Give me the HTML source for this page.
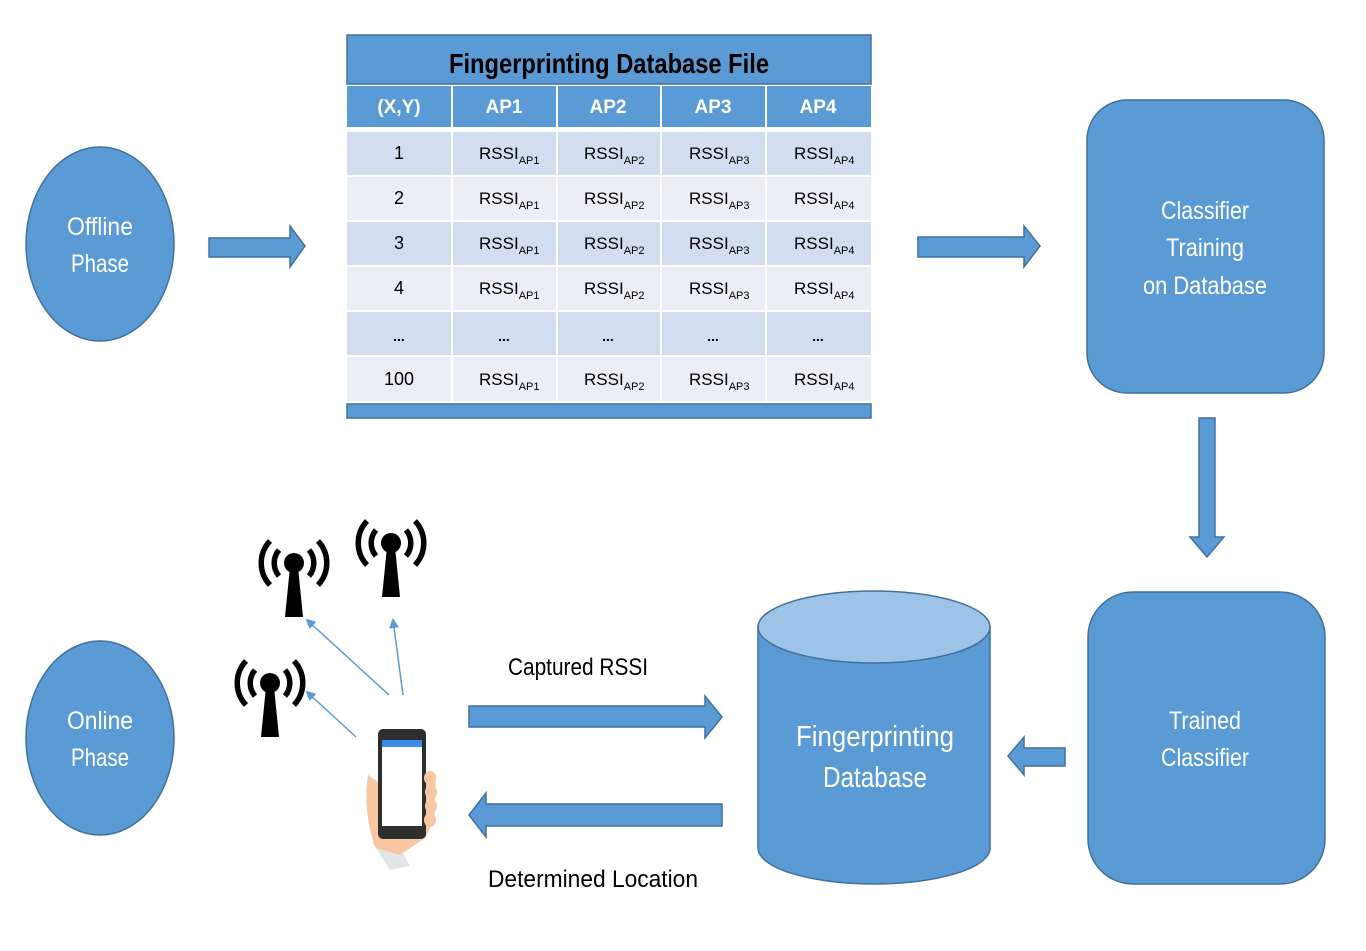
<!DOCTYPE html>
<html><head><meta charset="utf-8"><style>
html,body{margin:0;padding:0;background:#fff;width:1366px;height:951px;overflow:hidden}
svg{display:block}
text{font-family:"Liberation Sans Narrow","Liberation Sans",sans-serif}
</style></head><body>
<svg width="1366" height="951" viewBox="0 0 1366 951" xmlns="http://www.w3.org/2000/svg">
<defs>
<marker id="ah" markerWidth="10" markerHeight="10" refX="8" refY="5" orient="auto" markerUnits="userSpaceOnUse"><path d="M0,0 L10,5 L0,10 Z" fill="#5b9bd5"/></marker>
<g id="ant">
<circle cx="0" cy="0" r="10" fill="#000"/>
<path d="M-4,4 L4,4 L9,54 L-9,54 Z" fill="#000"/>
<path d="M-15,-13 A20,20 0 0 0 -15,13" fill="none" stroke="#000" stroke-width="5.5"/>
<path d="M15,-13 A20,20 0 0 1 15,13" fill="none" stroke="#000" stroke-width="5.5"/>
<path d="M-24,-22 A32,32 0 0 0 -24,22" fill="none" stroke="#000" stroke-width="5.5"/>
<path d="M24,-22 A32,32 0 0 1 24,22" fill="none" stroke="#000" stroke-width="5.5"/>
</g>
</defs>
<g fill="#5b9bd5" stroke="#41719c" stroke-width="1.5">
<ellipse cx="100" cy="244" rx="74" ry="97"/>
<ellipse cx="100" cy="738" rx="74" ry="97"/>
<path d="M209,238 L290,238 L290,226 L305,246 L290,267 L290,257 L209,257 Z"/>
<path d="M918,237 L1024,237 L1024,226 L1040,246 L1024,267 L1024,257 L918,257 Z"/>
<path d="M1199,418 L1215,418 L1215,537 L1224,537 L1207,557 L1190,537 L1199,537 Z"/>
<rect x="1087" y="100" width="237" height="293" rx="40"/>
<rect x="1088" y="592" width="237" height="292" rx="45"/>
<path d="M1065,748 L1024,748 L1024,737 L1008,756 L1024,775 L1024,766 L1065,766 Z"/>
<path d="M469,706 L705,706 L705,696 L722,717 L705,738 L705,727 L469,727 Z"/>
<path d="M722,804 L486,804 L486,793 L469,815 L486,837 L486,826 L722,826 Z"/>
<path d="M758,627 L758,848 A116,36 0 0 0 990,848 L990,627 Z"/>
<ellipse cx="874" cy="627" rx="116" ry="36" fill="#9dc3e6"/>
</g>
<g fill="#fff" font-size="25" text-anchor="middle">
<text x="100" y="235" textLength="66" lengthAdjust="spacingAndGlyphs">Offline</text>
<text x="100" y="272" textLength="58" lengthAdjust="spacingAndGlyphs">Phase</text>
<text x="100" y="729" textLength="66" lengthAdjust="spacingAndGlyphs">Online</text>
<text x="100" y="766" textLength="58" lengthAdjust="spacingAndGlyphs">Phase</text>
<text x="1205" y="219" textLength="88" lengthAdjust="spacingAndGlyphs">Classifier</text>
<text x="1205" y="256" textLength="78" lengthAdjust="spacingAndGlyphs">Training</text>
<text x="1205" y="294" textLength="124" lengthAdjust="spacingAndGlyphs">on Database</text>
<text x="1205" y="729" textLength="72" lengthAdjust="spacingAndGlyphs">Trained</text>
<text x="1205" y="766" textLength="88" lengthAdjust="spacingAndGlyphs">Classifier</text>
<text x="875" y="746" font-size="29" textLength="158" lengthAdjust="spacingAndGlyphs">Fingerprinting</text>
<text x="875" y="787" font-size="29" textLength="104" lengthAdjust="spacingAndGlyphs">Database</text>
</g>
<g font-size="24" fill="#000">
<text x="508" y="675" textLength="140" lengthAdjust="spacingAndGlyphs">Captured RSSI</text>
<text x="488" y="887" textLength="210" lengthAdjust="spacingAndGlyphs">Determined Location</text>
</g>
<!-- table -->
<rect x="347" y="35" width="524" height="49" fill="#5b9bd5" stroke="#41719c" stroke-width="1.5"/>
<text x="609" y="73" font-size="28" font-weight="bold" text-anchor="middle" textLength="320" lengthAdjust="spacingAndGlyphs">Fingerprinting Database File</text>
<g fill="#5b9bd5">
<rect x="347" y="86" width="104" height="41"/><rect x="453" y="86" width="103" height="41"/><rect x="558" y="86" width="102" height="41"/><rect x="662" y="86" width="103" height="41"/><rect x="767" y="86" width="104" height="41"/>
</g>
<g fill="#fff" font-size="19" font-weight="bold" text-anchor="middle">
<text x="399" y="113">(X,Y)</text><text x="504" y="113">AP1</text><text x="608" y="113">AP2</text><text x="713" y="113">AP3</text><text x="818" y="113">AP4</text>
</g>
<g>
<rect x="347" y="132" width="524" height="43" fill="#d2deef"/>
<rect x="347" y="177" width="524" height="43" fill="#eaeff7"/>
<rect x="347" y="222" width="524" height="43" fill="#d2deef"/>
<rect x="347" y="267" width="524" height="43" fill="#eaeff7"/>
<rect x="347" y="312" width="524" height="43" fill="#d2deef"/>
<rect x="347" y="357" width="524" height="44" fill="#eaeff7"/>
<g stroke="#fff" stroke-width="2"><line x1="452" y1="130" x2="452" y2="402"/><line x1="557" y1="130" x2="557" y2="402"/><line x1="661" y1="130" x2="661" y2="402"/><line x1="766" y1="130" x2="766" y2="402"/></g>
</g>
<rect x="347" y="404" width="524" height="14" fill="#5b9bd5" stroke="#41719c" stroke-width="1.5"/>
<g font-size="18" fill="#000" text-anchor="middle">
<text x="399" y="159">1</text><text x="399" y="204">2</text><text x="399" y="249">3</text><text x="399" y="294">4</text><text x="399" y="341" font-weight="bold" font-size="14">...</text><text x="399" y="385">100</text>
<text x="504" y="341" font-weight="bold" font-size="14">...</text><text x="608" y="341" font-weight="bold" font-size="14">...</text><text x="713" y="341" font-weight="bold" font-size="14">...</text><text x="818" y="341" font-weight="bold" font-size="14">...</text>
</g>
<g font-size="17" fill="#000">
<text x="479" y="159">RSSI<tspan font-size="11" dy="5">AP1</tspan></text>
<text x="584" y="159">RSSI<tspan font-size="11" dy="5">AP2</tspan></text>
<text x="689" y="159">RSSI<tspan font-size="11" dy="5">AP3</tspan></text>
<text x="794" y="159">RSSI<tspan font-size="11" dy="5">AP4</tspan></text>
<text x="479" y="204">RSSI<tspan font-size="11" dy="5">AP1</tspan></text>
<text x="584" y="204">RSSI<tspan font-size="11" dy="5">AP2</tspan></text>
<text x="689" y="204">RSSI<tspan font-size="11" dy="5">AP3</tspan></text>
<text x="794" y="204">RSSI<tspan font-size="11" dy="5">AP4</tspan></text>
<text x="479" y="249">RSSI<tspan font-size="11" dy="5">AP1</tspan></text>
<text x="584" y="249">RSSI<tspan font-size="11" dy="5">AP2</tspan></text>
<text x="689" y="249">RSSI<tspan font-size="11" dy="5">AP3</tspan></text>
<text x="794" y="249">RSSI<tspan font-size="11" dy="5">AP4</tspan></text>
<text x="479" y="294">RSSI<tspan font-size="11" dy="5">AP1</tspan></text>
<text x="584" y="294">RSSI<tspan font-size="11" dy="5">AP2</tspan></text>
<text x="689" y="294">RSSI<tspan font-size="11" dy="5">AP3</tspan></text>
<text x="794" y="294">RSSI<tspan font-size="11" dy="5">AP4</tspan></text>
<text x="479" y="385">RSSI<tspan font-size="11" dy="5">AP1</tspan></text>
<text x="584" y="385">RSSI<tspan font-size="11" dy="5">AP2</tspan></text>
<text x="689" y="385">RSSI<tspan font-size="11" dy="5">AP3</tspan></text>
<text x="794" y="385">RSSI<tspan font-size="11" dy="5">AP4</tspan></text>
</g>
<!-- antennas -->
<use href="#ant" x="294" y="563"/>
<use href="#ant" x="391" y="543"/>
<use href="#ant" x="270" y="683"/>
<g stroke="#5b9bd5" stroke-width="1.5" marker-end="url(#ah)">
<line x1="389" y1="695" x2="307" y2="620"/>
<line x1="403" y1="695" x2="393" y2="620"/>
<line x1="356" y1="737" x2="307" y2="692"/>
</g>
<!-- phone in hand -->
<path d="M372,842 L390,870 L410,866 L396,840 Z" fill="#e3e6e6"/>
<path d="M368,775 C364,800 368,830 376,848 L400,855 L425,838 L434,820 L436,775 L425,772 L378,782 Z" fill="#f8c6a0"/>
<rect x="378" y="729" width="48" height="110" rx="5" fill="#2e2e2e"/>
<rect x="382" y="740" width="40" height="86" fill="#fff"/>
<rect x="382" y="740" width="40" height="7" fill="#3b8ee6"/>
<g fill="#f8c6a0"><ellipse cx="430" cy="778" rx="6" ry="7"/><ellipse cx="431" cy="792" rx="6" ry="7"/><ellipse cx="431" cy="806" rx="6" ry="7"/><ellipse cx="430" cy="820" rx="6" ry="7"/></g>
</svg>
</body></html>
